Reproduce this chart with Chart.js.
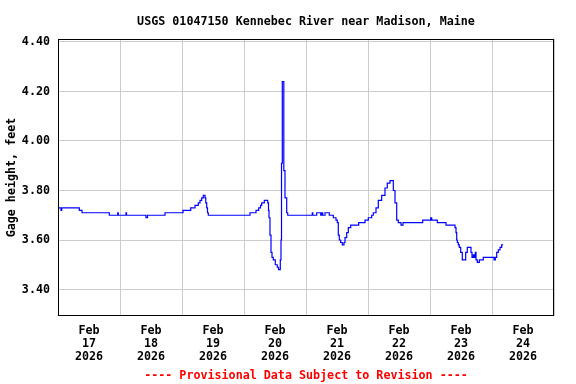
<!DOCTYPE html>
<html>
<head>
<meta charset="utf-8">
<script src="https://cdn.jsdelivr.net/npm/chart.js@4/dist/chart.umd.min.js"></script>
<style>
  html, body { margin: 0; padding: 0; background: #fff; }
  canvas { display: block; }
</style>
</head>
<body>
<canvas id="chart1" width="576" height="384"></canvas>
<script>
// hours since Feb 17 2026 00:00, gage height in feet
const hours = [
  0, 1.16, 1.43, 8.25, 9.29, 19.86, 23.11, 23.34, 26.32, 26.52,
  34.06, 34.65, 41.42, 48.39, 51.37, 53.03, 54.31, 54.97, 55.63, 56.25,
  56.90, 57.20, 57.56, 57.87, 58.18, 74.32, 76.65, 77.69, 78.40, 78.85,
  79.86, 81.18, 81.48, 81.68, 82.06, 82.45, 82.84, 83.34, 84.12, 84.89,
  85.36, 86.05, 86.32, 86.52, 86.83, 87.41, 87.87, 88.53, 88.92, 98.44,
  98.64, 100.14, 101.69, 102.08, 102.47, 103.36, 105.02, 106.57, 107.61, 108.12,
  108.50, 108.89, 109.43, 110.05, 110.71, 111.10, 111.76, 112.38, 113.30, 116.40,
  118.84, 120.12, 121.43, 122.05, 123.10, 123.99, 125.30, 126.58, 127.47, 128.52,
  129.80, 130.45, 131.11, 131.73, 132.78, 133.55, 141.17, 144.27, 144.66, 146.83,
  150.19, 153.68, 154.07, 154.34, 154.57, 154.96, 155.34, 155.88, 156.50, 157.82,
  158.44, 159.87, 160.26, 160.76, 161.15, 161.54, 161.81, 162.31, 163.09, 164.63,
  168.78, 169.28, 169.82, 170.44, 171.10, 171.75, 172.30
];
const gageFt = [
  3.73, 3.72, 3.73, 3.72, 3.71, 3.70, 3.71, 3.70, 3.71, 3.70,
  3.69, 3.70, 3.71, 3.72, 3.73, 3.74, 3.75, 3.76, 3.77, 3.78,
  3.77, 3.75, 3.73, 3.71, 3.70, 3.71, 3.72, 3.73, 3.74, 3.75,
  3.76, 3.75, 3.72, 3.69, 3.62, 3.55, 3.53, 3.52, 3.50, 3.49,
  3.48, 3.52, 3.60, 3.91, 4.24, 3.88, 3.77, 3.71, 3.70, 3.71,
  3.70, 3.71, 3.70, 3.71, 3.70, 3.71, 3.70, 3.69, 3.68, 3.67,
  3.62, 3.60, 3.59, 3.58, 3.59, 3.61, 3.63, 3.65, 3.66, 3.67,
  3.68, 3.69, 3.70, 3.71, 3.73, 3.76, 3.78, 3.81, 3.83, 3.84,
  3.80, 3.75, 3.68, 3.67, 3.66, 3.67, 3.68, 3.69, 3.68, 3.67,
  3.66, 3.65, 3.63, 3.60, 3.59, 3.58, 3.57, 3.55, 3.52, 3.55,
  3.57, 3.55, 3.53, 3.54, 3.53, 3.55, 3.52, 3.51, 3.52, 3.53,
  3.52, 3.53, 3.55, 3.56, 3.57, 3.58, 3.58
];

const monthLabel = 'Feb';
const dayLabels = ['17', '18', '19', '20', '21', '22', '23', '24'];
const yearLabel = '2026';
const yTicks = [3.40, 3.60, 3.80, 4.00, 4.20, 4.40];

const titleText = 'USGS 01047150 Kennebec River near Madison, Maine';
const yTitle = 'Gage height, feet';
const footerText = '---- Provisional Data Subject to Revision ----';

const mono = "'DejaVu Sans Mono', 'Liberation Mono', monospace";
const font = { family: mono, size: 11.7, weight: 'bold', lineHeight: '13px' };

const xTicks = [];
for (let h = 0; h <= 192; h += 12) xTicks.push(h);

const points = hours.map((h, i) => ({ x: h, y: gageFt[i] }));

const frame = {
  id: 'frame',
  afterDatasetsDraw(chart) {
    const { ctx, chartArea: a } = chart;
    const l = Math.round(a.left) + 0.5, t = Math.round(a.top) + 0.5;
    const r = Math.round(a.right) - 0.5, b = Math.round(a.bottom) - 0.5;
    ctx.save();
    ctx.strokeStyle = '#000';
    ctx.lineWidth = 1;
    ctx.strokeRect(l, t, r - l, b - t);
    ctx.restore();
  }
};

new Chart(document.getElementById('chart1'), {
  type: 'line',
  data: {
    datasets: [{
      data: points,
      xAxisID: 'x',
      yAxisID: 'y',
      borderColor: '#0000ff',
      borderWidth: 1.2,
      pointRadius: 0,
      stepped: 'before',
      fill: false
    }]
  },
  options: {
    responsive: false,
    animation: false,
    layout: { padding: { left: 0, right: 22, top: 0, bottom: 0 } },
    plugins: { legend: { display: false }, tooltip: { enabled: false } },
    scales: {
      top: {
        type: 'linear', position: 'top', min: 0, max: 192,
        afterFit: s => { s.height = 39; },
        ticks: { display: false },
        grid: { display: false },
        border: { display: false },
        title: { display: true, text: titleText, color: '#000', font, padding: { top: 15, bottom: 0 } }
      },
      x: {
        type: 'linear', position: 'bottom', min: 0, max: 192,
        afterBuildTicks: s => { s.ticks = xTicks.map(v => ({ value: v })); },
        afterFit: s => { s.height = 68; },
        grid: {
          drawTicks: false,
          color: c => (c.tick && c.tick.value % 24 === 0) ? '#cccccc' : 'rgba(0,0,0,0)'
        },
        border: { display: false },
        ticks: {
          autoSkip: false, maxRotation: 0, minRotation: 0, padding: 8,
          color: '#000', font,
          callback: v => v % 24 === 12 ? [monthLabel, dayLabels[(v - 12) / 24], yearLabel] : ''
        },
        title: { display: true, text: footerText, color: '#ff0000', font, padding: { top: 0, bottom: 2 } }
      },
      y: {
        type: 'linear', min: 3.293, max: 4.412,
        afterBuildTicks: s => { s.ticks = yTicks.map(v => ({ value: v })); },
        afterFit: s => { s.width = 58; },
        grid: { drawTicks: false, color: '#cccccc' },
        border: { display: false },
        ticks: { padding: 8, color: '#000', font, callback: v => v.toFixed(2) },
        title: { display: true, text: yTitle, color: '#000', font, padding: { top: 5, bottom: 0 } }
      }
    }
  },
  plugins: [frame]
});
</script>
</body>
</html>
